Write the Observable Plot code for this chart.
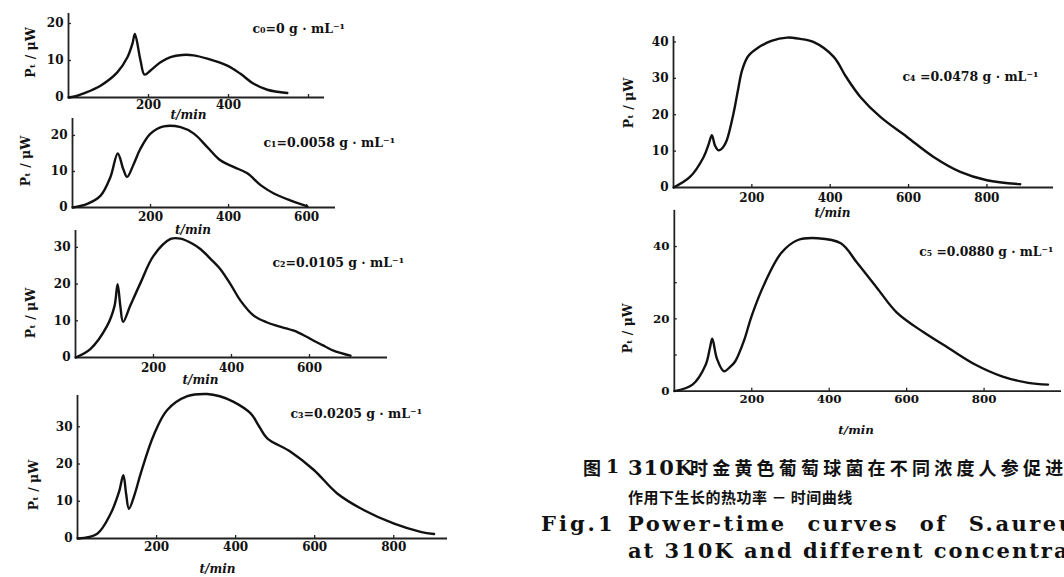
<!DOCTYPE html>
<html>
<head>
<meta charset="utf-8">
<script src="https://cdn.jsdelivr.net/npm/d3@7"></script>
<script src="https://cdn.jsdelivr.net/npm/@observablehq/plot@0.6"></script>
<style>
  html, body { margin: 0; padding: 0; background: #fff; }
  #root { position: relative; width: 1064px; height: 577px; overflow: hidden; background: #fff; }
  .panel { position: absolute; }
  .cap { position: absolute; white-space: nowrap; color: #111; line-height: 1; }
  .cn { font-family: "Noto Sans CJK SC", sans-serif; font-weight: 700; }
  .en { font-family: "DejaVu Serif", serif; font-weight: 700; }
</style>
</head>
<body>
<div id="root"></div>
<script>
// ---- data ----
const t0 = [0, 20, 38, 80, 122, 147, 160, 166, 180, 190, 205, 230, 255, 284, 313, 347, 397, 430, 463, 497, 547];
const p0 = [0, 0.4, 1.1, 3.2, 6.8, 10.8, 14.6, 17.2, 10, 6.2, 7.3, 9.5, 10.9, 11.5, 11.4, 10.5, 8.6, 6.4, 3.7, 2.1, 1.2];

const t1 = [0, 38, 72, 97, 116, 130, 140, 157, 174, 200, 234, 277, 311, 346, 379, 414, 448, 482, 516, 560, 602];
const p1 = [0, 1, 3.3, 8.4, 15, 10.7, 8.5, 12.1, 16.3, 20.5, 22.5, 22.3, 20.5, 16.7, 13.1, 11.2, 9.5, 6.2, 3.9, 1.9, 0.3];

const t2 = [0, 38, 81, 100, 108, 115, 122, 140, 167, 200, 244, 269, 300, 321, 345, 372, 400, 423, 457, 490, 517, 560, 590, 612, 640, 663, 705];
const p2 = [0, 2.3, 8.6, 14, 20, 14, 9.7, 14, 20.4, 27.7, 32.3, 32.4, 31, 29.5, 27, 24, 19.5, 15.5, 11.4, 9.6, 8.6, 7.3, 5.8, 4.5, 3, 1.8, 0.5];

const t3 = [0, 50, 84, 105, 116, 123, 130, 145, 160, 193, 227, 278, 328, 360, 395, 438, 460, 480, 539, 598, 657, 725, 801, 868, 902];
const p3 = [0, 1.3, 6.7, 12.5, 17, 12, 8, 12, 17.5, 27.8, 34.5, 38.2, 38.8, 38.2, 36.7, 33.6, 30, 26.9, 23.3, 18.4, 12.1, 7.6, 4, 1.8, 1.2];

const t4 = [0, 42, 77, 90, 98, 106, 115, 126, 136, 153, 165, 175, 190, 213, 250, 290, 320, 357, 409, 440, 477, 528, 596, 664, 732, 800, 885];
const p4 = [0, 2.9, 8.4, 12, 14.4, 11.5, 10.2, 11, 13, 20.3, 27, 32.2, 36, 38.2, 40.3, 41.2, 40.9, 40, 35.9, 30.5, 24.9, 19.4, 13.9, 8.4, 4.3, 2, 0.9];

const t5 = [0, 47, 81, 92, 98, 110, 128, 145, 157, 180, 200, 234, 276, 319, 370, 430, 472, 523, 574, 642, 710, 778, 846, 914, 965];
const p5 = [0, 1.8, 7.3, 12, 14.5, 9, 5.5, 6.8, 8.2, 14, 20.9, 30, 38.2, 41.8, 42.3, 40.9, 35.5, 28.6, 21.8, 16.4, 11.8, 7.3, 4.1, 2.3, 1.8];

const labels = [
  "c\u2080=0 g \u00b7 mL\u207b\u00b9",
  "c\u2081=0.0058 g \u00b7 mL\u207b\u00b9",
  "c\u2082=0.0105 g \u00b7 mL\u207b\u00b9",
  "c\u2083=0.0205 g \u00b7 mL\u207b\u00b9",
  "c\u2084 =0.0478 g \u00b7 mL\u207b\u00b9",
  "c\u2085 =0.0880 g \u00b7 mL\u207b\u00b9"
];
const yTitle = "P\u209c / \u03bcW";
const xTitle = "t/min";

const xTicks0 = [200, 400, 600];
const xTickLabels0 = [200, 400];
const xTicks1 = [200, 400, 600];
const xTicks3 = [200, 400, 600, 800];
const yTicks0 = [0, 10, 20];
const yTicks2 = [0, 10, 20, 30];
const yTicks4 = [0, 10, 20, 30, 40];
const yTickLabels5 = [0, 20, 40];

// ---- layout (pixel boxes of each panel) ----
const panels = [
  {t: t0, p: p0, label: labels[0], L: 0, T: 0, W: 480, H: 125, x0: 68, x1: 324, xmax: 640, y0: 97, y1: 13, ymax: 22.7,
   xt: xTicks0, xl: xTickLabels0, yt: yTicks0, yl: yTicks0, xpad: 3, lab: [184, 15], xlab: [-8, 18], ylab: [-38, -3]},
  {t: t1, p: p1, label: labels[1], L: 0, T: 110, W: 480, H: 130, x0: 72, x1: 335, xmax: 674, y0: 207, y1: 118, ymax: 24.7,
   xt: xTicks1, xl: xTicks1, yt: yTicks0, yl: yTicks0, xpad: 5, lab: [191, 24], xlab: [-11, 23], ylab: [-47, -2]},
  {t: t2, p: p2, label: labels[2], L: 0, T: 220, W: 480, H: 170, x0: 75, x1: 387, xmax: 800, y0: 357, y1: 230, ymax: 34.6,
   xt: xTicks1, xl: xTicks1, yt: yTicks2, yl: yTicks2, xpad: 6, lab: [197, 32], xlab: [-31, 23], ylab: [-45, 19]},
  {t: t3, p: p3, label: labels[3], L: 0, T: 385, W: 480, H: 192, x0: 77, x1: 447, xmax: 936, y0: 538, y1: 395, ymax: 38.4,
   xt: xTicks3, xl: xTicks3, yt: yTicks2, yl: yTicks2, xpad: 4, lab: [213, 18], xlab: [-45, 31], ylab: [-44, 18]},
  {t: t4, p: p4, label: labels[4], L: 580, T: 20, W: 484, H: 200, x0: 673, x1: 1053, xmax: 970, y0: 187, y1: 36, ymax: 41.5,
   xt: xTicks3, xl: xTicks3, yt: yTicks4, yl: yTicks4, xpad: 6, lab: [229, 40], xlab: [-31, 26], ylab: [-45, -9]},
  {t: t5, p: p5, label: labels[5], L: 580, T: 200, W: 490, H: 245, x0: 675, x1: 1067, xmax: 1000, y0: 393, y1: 210, ymax: 50,
   xt: xTicks3, xl: xTicks3, yt: yTicks4, yl: yTickLabels5, xpad: 3, lab: [248, 42], xlab: [-12, 40], ylab: [-47, 28]}
];

const root = document.getElementById("root");
const font = "'DejaVu Serif', serif";

for (const c of panels) {
  const data = c.t.map((t, i) => ({t, p: c.p[i]}));
  const innerW = c.x1 - c.x0, innerH = c.y0 - c.y1;
  const chart = Plot.plot({
    width: c.W, height: c.H,
    marginLeft: c.x0 - c.L, marginRight: c.L + c.W - c.x1,
    marginTop: c.y1 - c.T, marginBottom: c.T + c.H - c.y0,
    x: {domain: [0, c.xmax]},
    y: {domain: [0, c.ymax]},
    style: {background: "transparent", overflow: "visible", fontFamily: font, fontWeight: "bold", fontSize: "12px", color: "#111"},
    marks: [
      Plot.ruleX([0], {stroke: "#222", strokeWidth: 1.8}),
      Plot.ruleY([0], {stroke: "#222", strokeWidth: 1.8}),
      Plot.tickX(c.xt, {x: d => d, insetTop: innerH - 3, stroke: "#222", strokeWidth: 1.3}),
      Plot.tickY(c.yt, {y: d => d, insetRight: innerW - 3, stroke: "#222", strokeWidth: 1.3}),
      Plot.axisX(c.xl, {tickSize: 0, tickPadding: c.xpad, label: null, fontSize: 12, fontWeight: "bold", fill: "#111"}),
      Plot.axisY(c.yl, {tickSize: 0, tickPadding: 5, label: null, fontSize: 12, fontWeight: "bold", fill: "#111"}),
      Plot.line(data, {x: "t", y: "p", curve: "catmull-rom", stroke: "#111", strokeWidth: 2.4}),
      Plot.text([c.label], {text: d => d, frameAnchor: "top-left", textAnchor: "start", lineAnchor: "middle",
        dx: c.lab[0], dy: c.lab[1], fontSize: 12.5, fontWeight: "bold", fill: "#111"}),
      Plot.text([xTitle], {text: d => d, frameAnchor: "bottom", lineAnchor: "middle",
        dx: c.xlab[0], dy: c.xlab[1], fontSize: 12, fontWeight: "bold", fontStyle: "italic", fill: "#111"}),
      Plot.text([yTitle], {text: d => d, frameAnchor: "left", rotate: -90, lineAnchor: "middle", textAnchor: "middle",
        dx: c.ylab[0], dy: c.ylab[1], fontSize: 12.5, fontWeight: "bold", fill: "#111"})
    ]
  });
  const box = document.createElement("div");
  box.className = "panel";
  box.style.left = c.L + "px";
  box.style.top = c.T + "px";
  box.appendChild(chart);
  root.appendChild(box);
}

// ---- caption (the reference is cropped at the right edge) ----
const captionLines = [
  {x: 583, y: 458, cls: "cn", size: 18, ls: 0, text: "图"},
  {x: 606, y: 457, cls: "en", size: 19, ls: 0, text: "1"},
  {x: 628, y: 457, cls: "en", size: 21, ls: 1, text: "310K"},
  {x: 690, y: 458, cls: "cn", size: 18, ls: 4.2, text: "时金黄色葡萄球菌在不同浓度人参促进剂"},
  {x: 628, y: 489, cls: "cn", size: 15, ls: 0.5, text: "作用下生长的热功率 － 时间曲线"},
  {x: 541, y: 513, cls: "en", size: 21, ls: 3, text: "Fig.1"},
  {x: 628, y: 513, cls: "en", size: 21, ls: 2.5, ws: 11, text: "Power-time curves of S.aureus"},
  {x: 628, y: 540, cls: "en", size: 21, ls: 2, text: "at 310K and different concentrations"}
];
for (const l of captionLines) {
  const d = document.createElement("div");
  d.className = "cap " + l.cls;
  d.style.left = l.x + "px";
  d.style.top = l.y + "px";
  d.style.fontSize = l.size + "px";
  d.style.letterSpacing = l.ls + "px";
  if (l.ws) d.style.wordSpacing = l.ws + "px";
  d.textContent = l.text;
  root.appendChild(d);
}
</script>
</body>
</html>
